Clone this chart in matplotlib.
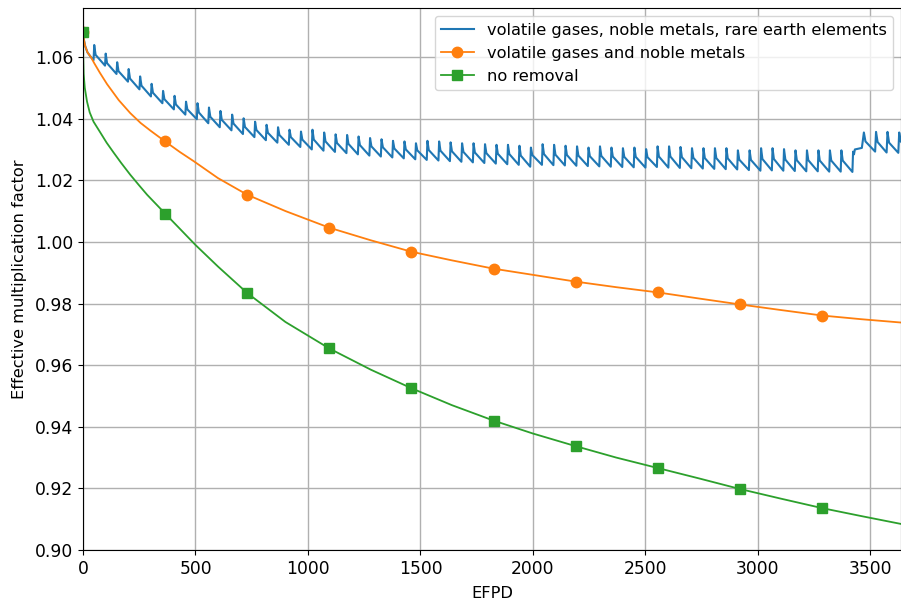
import numpy as np
import matplotlib
matplotlib.use('Agg')
import matplotlib.pyplot as plt

# no removal
green_days = [0, 1, 3, 8, 18, 30, 47, 77, 105, 136, 170, 210, 250, 285, 365, 430, 500, 600, 730,
              900, 1095, 1280, 1460, 1640, 1825, 2000, 2190, 2370, 2555, 2740, 2920, 3100, 3285,
              3460, 3640]
green_k = [1.0680, 1.0600, 1.0545, 1.0500, 1.0455, 1.0420, 1.0390, 1.0355, 1.0322, 1.0290, 1.0256,
           1.0218, 1.0183, 1.0153, 1.0092, 1.0043, 0.9990, 0.9920, 0.9834, 0.9740, 0.9654, 0.9585,
           0.9525, 0.9470, 0.9420, 0.9378, 0.9337, 0.9300, 0.9266, 0.9232, 0.9198, 0.9167, 0.9136,
           0.9110, 0.9084]

# volatile gases and noble metals
orange_days = [0, 3, 10, 20, 35, 50, 75, 107, 159, 210, 256, 300, 365, 430, 492, 600, 730, 900,
               1095, 1280, 1460, 1640, 1825, 2000, 2190, 2370, 2555, 2740, 2920, 3100, 3285, 3460,
               3640]
orange_k = [1.0680, 1.0660, 1.0635, 1.0615, 1.0600, 1.0580, 1.0549, 1.0512, 1.0460, 1.0418, 1.0386,
            1.0361, 1.0326, 1.0292, 1.0262, 1.0207, 1.0153, 1.0100, 1.0046, 1.0005, 0.9968, 0.9940,
            0.9913, 0.9893, 0.9871, 0.9853, 0.9836, 0.9816, 0.9797, 0.9779, 0.9761, 0.9749, 0.9738]

marker_days = [0, 365, 730, 1095, 1460, 1825, 2190, 2555, 2920, 3285]

# volatile gases, noble metals, rare earth elements (sawtooth, one tooth per removal)
blue_start_days = [0, 3, 10, 20, 35]
blue_start_k = [1.0680, 1.0660, 1.0635, 1.0615, 1.0600]

spike_days = [49, 100, 151, 202, 253, 304, 355, 406, 457, 508, 559, 610, 662, 713, 764, 815, 866,
              917, 968, 1019, 1071, 1122, 1173, 1224, 1275, 1326, 1377, 1428, 1479, 1530, 1582,
              1633, 1684, 1735, 1786, 1837, 1888, 1939, 1990, 2042, 2093, 2144, 2195, 2246, 2297,
              2348, 2399, 2450, 2502, 2553, 2604, 2655, 2706, 2757, 2808, 2859, 2910, 2962, 3013,
              3064, 3115, 3166, 3217, 3268, 3319, 3370]
trough_k = [1.0590, 1.0572, 1.0545, 1.0520, 1.0495, 1.0472, 1.0450, 1.0430, 1.0413, 1.0398, 1.0385,
            1.0372, 1.0362, 1.0350, 1.0340, 1.0330, 1.0322, 1.0315, 1.0308, 1.0300, 1.0296, 1.0292,
            1.0288, 1.0284, 1.0280, 1.0277, 1.0274, 1.0271, 1.0268, 1.0266, 1.0264, 1.0262, 1.0260,
            1.0258, 1.0256, 1.0254, 1.0252, 1.0250, 1.0244, 1.0250, 1.0249, 1.0248, 1.0247, 1.0246,
            1.0245, 1.0244, 1.0243, 1.0242, 1.0241, 1.0243, 1.0241, 1.0240, 1.0239, 1.0238, 1.0237,
            1.0236, 1.0235, 1.0233, 1.0231, 1.0232, 1.0231, 1.0230, 1.0229, 1.0229, 1.0228, 1.0228]
peak_k = [1.0639, 1.0611, 1.0583, 1.0561, 1.0537, 1.0513, 1.0490, 1.0474, 1.0455, 1.0450, 1.0436,
          1.0425, 1.0413, 1.0401, 1.0390, 1.0380, 1.0372, 1.0364, 1.0358, 1.0364, 1.0355, 1.0349,
          1.0347, 1.0342, 1.0337, 1.0333, 1.0328, 1.0326, 1.0320, 1.0328, 1.0326, 1.0323, 1.0320,
          1.0320, 1.0317, 1.0315, 1.0315, 1.0312, 1.0306, 1.0317, 1.0315, 1.0312, 1.0310, 1.0306,
          1.0310, 1.0306, 1.0304, 1.0306, 1.0301, 1.0310, 1.0310, 1.0308, 1.0304, 1.0304, 1.0304,
          1.0304, 1.0297, 1.0297, 1.0304, 1.0304, 1.0301, 1.0297, 1.0297, 1.0297, 1.0297, 1.0297]
knee_k = [1.0607, 1.0580, 1.0554, 1.0530, 1.0507, 1.0484, 1.0463, 1.0446, 1.0430, 1.0420, 1.0406,
          1.0396, 1.0384, 1.0373, 1.0363, 1.0354, 1.0347, 1.0340, 1.0332, 1.0332, 1.0326, 1.0321,
          1.0318, 1.0314, 1.0310, 1.0307, 1.0303, 1.0300, 1.0297, 1.0298, 1.0296, 1.0294, 1.0292,
          1.0290, 1.0288, 1.0286, 1.0285, 1.0280, 1.0282, 1.0285, 1.0283, 1.0282, 1.0280, 1.0278,
          1.0279, 1.0277, 1.0276, 1.0276, 1.0275, 1.0277, 1.0277, 1.0275, 1.0273, 1.0272, 1.0272,
          1.0271, 1.0267, 1.0266, 1.0269, 1.0269, 1.0267, 1.0265, 1.0265, 1.0264, 1.0264, 1.0264]

blue_tail_days = [3420, 3423, 3427, 3431, 3462, 3471, 3478, 3521, 3525, 3532, 3572, 3576, 3583,
                  3624, 3628, 3635, 3645]
blue_tail_k = [1.0227, 1.0293, 1.0284, 1.0300, 1.0305, 1.0355, 1.0326, 1.0293, 1.0357, 1.0324,
               1.0290, 1.0357, 1.0322, 1.0289, 1.0355, 1.0326, 1.0318]

# assemble the sawtooth vertices
bx = list(blue_start_days)
by = list(blue_start_k)
for t, tr, pk, kn in zip(spike_days, trough_k, peak_k, knee_k):
    bx += [t - 2, t + 1, t + 7]
    by += [tr, pk, kn]
bx += blue_tail_days
by += blue_tail_k

fig = plt.figure(figsize=(9.01, 6.03), dpi=100)
ax = fig.add_axes([0.0921, 0.0879, 0.9079, 0.8988])

ax.plot(bx, by, color='#1f77b4', lw=1.5,
        label='volatile gases, noble metals, rare earth elements')
ax.plot(orange_days, orange_k, color='#ff7f0e', lw=1.3, marker='o', ms=7.5,
        markevery=[orange_days.index(d) for d in marker_days],
        label='volatile gases and noble metals')
ax.plot(green_days, green_k, color='#2ca02c', lw=1.3, marker='s', ms=7,
        markevery=[green_days.index(d) for d in marker_days],
        label='no removal')

ax.set_xlim(0, 3636)
ax.set_ylim(0.90, 1.0759)
ax.set_yticks(np.arange(0.90, 1.061, 0.02))
ax.set_xticks(np.arange(0, 3501, 500))
ax.grid(True, color='#b0b0b0', lw=1.0)
ax.set_axisbelow(True)
ax.tick_params(labelsize=12.3)
ax.set_xlabel('EFPD', fontsize=11.7, labelpad=6)
ax.set_ylabel('Effective multiplication factor', fontsize=11.7, labelpad=6)
ax.legend(loc='upper right', fontsize=11.7)

fig.savefig('out.png', dpi=100)
